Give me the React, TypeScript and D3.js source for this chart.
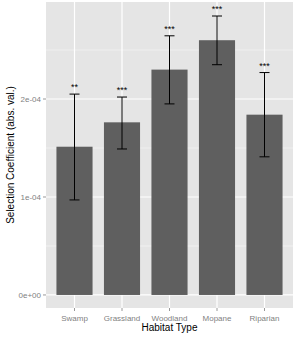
import React from "react";
import * as d3 from "d3";

const habitats = ["Swamp", "Grassland", "Woodland", "Mopane", "Riparian"];
const coefficients = [1.513e-4, 1.762e-4, 2.3e-4, 2.6e-4, 1.84e-4];
const lowerBounds = [0.97e-4, 1.49e-4, 1.95e-4, 2.35e-4, 1.41e-4];
const upperBounds = [2.05e-4, 2.02e-4, 2.645e-4, 2.847e-4, 2.27e-4];
const significance = ["**", "***", "***", "***", "***"];
const yTicks = [0, 1e-4, 2e-4];
const yTickLabels = ["0e+00", "1e-04", "2e-04"];
const yMinorTicks = [0.5e-4, 1.5e-4, 2.5e-4];

const W = 296;
const H = 357;
const panel = { left: 46, right: 293, top: 2, bottom: 308 };

export default function App() {
  const x = d3
    .scaleBand<string>()
    .domain(habitats)
    .range([panel.left, panel.right])
    .paddingOuter(0.1)
    .paddingInner(0);
  const barW = x.step() * 0.76;
  const y = d3
    .scaleLinear()
    .domain([-0.133e-4, 2.99e-4])
    .range([panel.bottom, panel.top]);

  const font = "Liberation Sans, Arial, sans-serif";
  const capHalf = 5;

  return (
    <svg
      width={W}
      height={H}
      style={{ position: "absolute", left: 0, top: 0 }}
      fontFamily={font}
    >
      <rect width={W} height={H} fill="#ffffff" />
      <rect
        x={panel.left}
        y={panel.top}
        width={panel.right - panel.left}
        height={panel.bottom - panel.top}
        fill="#e5e5e5"
      />
      {yMinorTicks.map((t) => (
        <line
          key={"m" + t}
          x1={panel.left}
          x2={panel.right}
          y1={y(t)}
          y2={y(t)}
          stroke="#f2f2f2"
          strokeWidth={0.8}
        />
      ))}
      {yTicks.map((t) => (
        <line
          key={"g" + t}
          x1={panel.left}
          x2={panel.right}
          y1={y(t)}
          y2={y(t)}
          stroke="#ffffff"
          strokeWidth={1.2}
        />
      ))}
      {habitats.map((h) => {
        const cx = x(h)! + x.bandwidth() / 2;
        return (
          <line
            key={"v" + h}
            x1={cx}
            x2={cx}
            y1={panel.top}
            y2={panel.bottom}
            stroke="#ffffff"
            strokeWidth={1.2}
          />
        );
      })}
      {habitats.map((h, i) => {
        const cx = x(h)! + x.bandwidth() / 2;
        return (
          <rect
            key={"b" + h}
            x={cx - barW / 2}
            y={y(coefficients[i])}
            width={barW}
            height={y(0) - y(coefficients[i])}
            fill="#5f5f5f"
          />
        );
      })}
      {habitats.map((h, i) => {
        const cx = x(h)! + x.bandwidth() / 2;
        const yt = y(upperBounds[i]);
        const yb = y(lowerBounds[i]);
        return (
          <g key={"e" + h} stroke="#000000" strokeWidth={1}>
            <line x1={cx} x2={cx} y1={yt} y2={yb} />
            <line x1={cx - capHalf} x2={cx + capHalf} y1={yt} y2={yt} />
            <line x1={cx - capHalf} x2={cx + capHalf} y1={yb} y2={yb} />
          </g>
        );
      })}
      {habitats.map((h, i) => {
        const cx = x(h)! + x.bandwidth() / 2;
        return (
          <text
            key={"s" + h}
            x={cx}
            y={y(upperBounds[i]) - 4}
            textAnchor="middle"
            fontSize={9}
            fill="#000000"
          >
            {significance[i]}
          </text>
        );
      })}
      {yTicks.map((t, i) => (
        <g key={"yt" + t}>
          <line
            x1={panel.left - 3}
            x2={panel.left}
            y1={y(t)}
            y2={y(t)}
            stroke="#7f7f7f"
            strokeWidth={0.8}
          />
          <text
            x={panel.left - 5}
            y={y(t)}
            dy="0.35em"
            textAnchor="end"
            fontSize={8}
            fill="#7f7f7f"
          >
            {yTickLabels[i]}
          </text>
        </g>
      ))}
      {habitats.map((h) => {
        const cx = x(h)! + x.bandwidth() / 2;
        return (
          <g key={"xt" + h}>
            <line
              x1={cx}
              x2={cx}
              y1={panel.bottom}
              y2={panel.bottom + 3}
              stroke="#7f7f7f"
              strokeWidth={0.8}
            />
            <text
              x={cx}
              y={panel.bottom + 12.5}
              textAnchor="middle"
              fontSize={8}
              fill="#7f7f7f"
            >
              {h}
            </text>
          </g>
        );
      })}
      <text
        x={(panel.left + panel.right) / 2}
        y={331}
        textAnchor="middle"
        fontSize={10}
        fill="#000000"
      >
        Habitat Type
      </text>
      <text
        transform={`translate(13.5, ${(panel.top + panel.bottom) / 2}) rotate(-90)`}
        textAnchor="middle"
        fontSize={10}
        fill="#000000"
      >
        Selection Coefficient (abs. val.)
      </text>
    </svg>
  );
}
